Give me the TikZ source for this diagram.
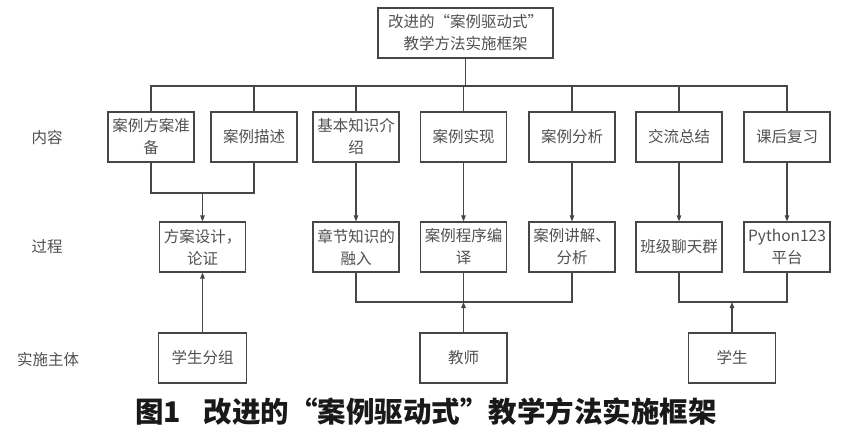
\documentclass[tikz,border=0pt]{standalone}
\usepackage{fontspec}
\newfontfamily\cjk{Noto Sans CJK SC}
\usetikzlibrary{arrows.meta}
\definecolor{ln}{RGB}{70,70,70}
\definecolor{tx}{RGB}{80,80,80}
\begin{document}
\begin{tikzpicture}[x=1pt,y=-1pt,
  bx/.style={draw=ln,line width=1.1pt,minimum width=86pt,minimum height=50pt,inner sep=1pt,
    align=center,text=tx,font=\cjk\fontsize{15.5}{22}\selectfont},
  lab/.style={text=tx,font=\cjk\fontsize{15.5}{20}\selectfont},
  cn/.style={draw=ln,line width=1.1pt},
  arr/.style={cn,-{Triangle[length=6pt,width=4.5pt]}}]
\useasboundingbox (0,0) rectangle (848,444);
% title
\node[bx,minimum width=175pt] (t) at (465.5,33) {改进的“案例驱动式”\\教学方法实施框架};
% row labels
\node[lab] (l1) at (47,138) {内容};
\node[lab] (l2) at (47,247) {过程};
\node[lab] (l3) at (48,360) {实施主体};
% row 1
\node[bx] (c1) at (151,137) {案例方案准\\备};
\node[bx] (c2) at (254,137) {案例描述};
\node[bx] (c3) at (356,137) {基本知识介\\绍};
\node[bx] (c4) at (463.5,137) {案例实现};
\node[bx] (c5) at (572,137) {案例分析};
\node[bx] (c6) at (679,137) {交流总结};
\node[bx] (c7) at (787,137) {课后复习};
% row 2
\node[bx] (p1) at (202.5,247) {方案设计，\\论证};
\node[bx] (p2) at (356,247) {章节知识的\\融入};
\node[bx] (p3) at (463.5,247) {案例程序编\\译};
\node[bx] (p4) at (572,247) {案例讲解、\\分析};
\node[bx] (p5) at (679,247) {班级聊天群};
\node[bx] (p6) at (787,247) {Python123\\平台};
% row 3
\node[bx,minimum width=88pt] (s1) at (202.5,358) {学生分组};
\node[bx,minimum width=87pt] (s2) at (463.5,358) {教师};
\node[bx,minimum width=87pt] (s3) at (732,358) {学生};
% caption
\node[font=\cjk\bfseries\fontsize{28.5}{30}\selectfont,text=black!90] (cap) at (426,411) {图1\hspace{0.8em}改进的“案例驱动式”教学方法实施框架};
% junction coordinates
\coordinate (bar) at (465.5,86);
\coordinate (j1) at (202.5,193);
\coordinate (j2) at (463.5,302);
\coordinate (j3) at (732,302);
% top bar
\draw[cn] (t.south) -- (bar);
\draw[cn] (c1.north) |- (bar) -| (c7.north);
\foreach \n in {c2,c3,c4,c5,c6} \draw[cn] (\n.north) -- (\n.north |- bar);
% row1 -> row2
\draw[cn] (c1.south) |- (j1) -| (c2.south);
\draw[arr] (j1) -- (p1.north);
\draw[arr] (c3.south) -- (p2.north);
\draw[arr] (c4.south) -- (p3.north);
\draw[arr] (c5.south) -- (p4.north);
\draw[arr] (c6.south) -- (p5.north);
\draw[arr] (c7.south) -- (p6.north);
% row2 -> row3
\draw[cn] (p2.south) |- (j2) -| (p4.south);
\draw[cn] (p3.south) -- (j2);
\draw[cn] (p5.south) |- (j3) -| (p6.south);
\draw[arr] (s1.north) -- (p1.south);
\draw[arr] (s2.north) -- (j2);
\draw[arr] (s3.north) -- (j3);
\end{tikzpicture}
\end{document}
